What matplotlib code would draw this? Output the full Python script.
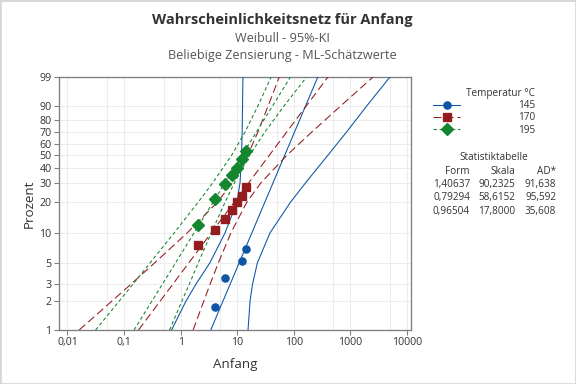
import matplotlib
matplotlib.use('Agg')
import numpy as np
import matplotlib.pyplot as plt
from matplotlib.lines import Line2D
from matplotlib.patches import Rectangle

plt.rcParams['font.family'] = ['Open Sans', 'Noto Sans', 'DejaVu Sans']
plt.rcParams['lines.scale_dashes'] = False

# ========== Daten ==========
temps = ['145', '170', '195']
form = ['1,40637', '0,79294', '0,96504']
skala = ['90,2325', '58,6152', '17,8000']
ad = ['91,638', '95,592', '35,608']

# Punkte (Anfang, Prozent)
x_145 = [4, 6, 12, 14]
p_145 = [1.75, 3.45, 5.15, 6.85]
x_170 = [2, 4, 6, 8, 10, 12, 14]
p_170 = [7.5, 10.6, 13.6, 16.8, 20.0, 22.7, 27.3]
x_195 = [2, 4, 6, 8, 10, 12, 14]
p_195 = [12.1, 21.2, 29.1, 34.8, 39.6, 46.7, 54.0]

# angepasste Gerade, Endpunkte bei 1 % und 99 %
fit_p = [1, 99]
fit_145 = [3.4, 265]
fit_170 = [0.18, 400]
fit_195 = [0.15, 87]

# 95%-KI
ci_p = [1, 2, 3, 5, 10, 20, 30, 50, 70, 90, 99]
ci_145_lo = [0.69, 1.24, 1.86, 3.29, 6.07, 9.88, 11.2, 11.9, 12.2, 12.4, 12.6]
ci_145_hi = [15.5, 16.8, 18.6, 22.7, 37.8, 87.7, 162, 400, 843, 1960, 4990]
ci_170_lo = [0.0161, 0.0606, 0.132, 0.350, 1.30, 4.49, 8.19, 15.3, 23.0, 35.3, 55.2]
ci_170_hi = [1.66, 2.56, 3.31, 4.65, 7.71, 14.8, 26.4, 75.5, 204, 682, 2507]
ci_195_lo = [0.0314, 0.0819, 0.143, 0.290, 0.765, 2.05, 3.71, 7.96, 13.6, 23.3, 39.6]
ci_195_hi = [0.637, 1.05, 1.42, 2.05, 3.47, 6.11, 8.92, 16.6, 30.4, 67.7, 168]

x_ticks = [0.01, 0.1, 1, 10, 100, 1000, 10000]
x_ticklabels = ['0,01', '0,1', '1', '10', '100', '1000', '10000']
x_grid = [0.05, 0.5, 5, 50, 500, 5000]
y_ticks = [1, 2, 3, 5, 10, 20, 30, 40, 50, 60, 70, 80, 90, 99]

blue, red, green = '#0d56a6', '#941b1e', '#14862e'


# Weibull-Wahrscheinlichkeitsachse
def fwd(p):
    p = np.clip(np.asarray(p, dtype=float), 1e-6, 100 - 1e-6)
    return np.log(-np.log(1 - p / 100))


def inv(y):
    return 100 * (1 - np.exp(-np.exp(y)))


fig = plt.figure(figsize=(6, 4), dpi=96)
ax = fig.add_axes([59 / 576, 1 - 330 / 384, 352 / 576, 253 / 384])
ax.set_xscale('log')
ax.set_yscale('function', functions=(fwd, inv))

styles = [
    (blue, '-', 'o', 5.4, x_145, p_145, fit_145, ci_145_lo, ci_145_hi),
    (red, (0, (6, 3)), 's', 6.3, x_170, p_170, fit_170, ci_170_lo, ci_170_hi),
    (green, (0, (2.6, 2)), 'D', 6.2, x_195, p_195, fit_195, ci_195_lo, ci_195_hi),
]
handles = []
for col, ls, mk, ms, xs, ps, fit, lo, hi in styles:
    ax.plot(fit, fit_p, color=col, ls=ls, lw=0.8, zorder=3)
    ax.plot(lo, ci_p, color=col, ls=ls, lw=0.8, zorder=3)
    ax.plot(hi, ci_p, color=col, ls=ls, lw=0.8, zorder=3)
    ax.plot(xs, ps, ls='none', marker=mk, ms=ms, color=col, mec=col, zorder=4)
    handles.append(Line2D([], [], color=col, ls=ls, lw=0.8, marker=mk, ms=ms, mec=col))

ax.set_xlim(10 ** -2.15, 10 ** 4.07)
ax.set_ylim(1, 99)
ax.set_xticks(x_ticks)
ax.set_xticklabels(x_ticklabels)
ax.set_xticks(x_grid, minor=True)
ax.set_yticks(y_ticks)
ax.set_yticklabels([str(v) for v in y_ticks])
ax.yaxis.set_minor_locator(matplotlib.ticker.NullLocator())
ax.grid(True, which='both', color='#ececec', lw=0.8, zorder=0)
ax.set_axisbelow(True)
ax.tick_params(axis='both', which='major', labelsize=8, labelcolor='#333333', color='#808080', length=3.5, width=0.8, pad=2)
ax.tick_params(axis='x', which='minor', length=0)
for s in ax.spines.values():
    s.set_color('#808080')
    s.set_linewidth(1.0)

ax.set_xlabel('Anfang', fontsize=10, color='#333333', labelpad=7)
ax.set_ylabel('Prozent', fontsize=10, color='#333333', labelpad=3)

# Titel
fig.text(282 / 576, 1 - 20 / 384, 'Wahrscheinlichkeitsnetz für Anfang', ha='center', va='center',
         fontsize=11, fontweight='bold', color='#333333')
fig.text(282 / 576, 1 - 38 / 384, 'Weibull - 95%-KI', ha='center', va='center', fontsize=9.5, color='#555555')
fig.text(282 / 576, 1 - 55 / 384, 'Beliebige Zensierung - ML-Schätzwerte', ha='center', va='center',
         fontsize=9.5, color='#555555')

# Legende
leg = fig.legend(handles, temps, loc='upper left', bbox_to_anchor=(428 / 576, 1 - 83 / 384), frameon=False,
                 borderpad=0, fontsize=7.5, title='Temperatur °C', title_fontsize=7.5, handlelength=2.7,
                 handletextpad=5.8, labelspacing=0.12, alignment='right', labelcolor='#333333')
leg.get_title().set_color('#333333')
leg.get_title().set_fontweight('normal')

# Statistiktabelle
fig.text(494 / 576, 1 - 157 / 384, 'Statistiktabelle', ha='center', va='center', fontsize=7.5, color='#333333')
cols_x = [470, 515.5, 556]
for cx, head in zip(cols_x, ['Form', 'Skala', 'AD*']):
    fig.text(cx / 576, 1 - 171 / 384, head, ha='right', va='center', fontsize=7.5, color='#333333')
for i in range(3):
    ry = 1 - (184.5 + 13.3 * i) / 384
    for cx, val in zip(cols_x, [form[i], skala[i], ad[i]]):
        fig.text(cx / 576, ry, val, ha='right', va='center', fontsize=7.5, color='#333333')

fig.patches.append(Rectangle((0, 0), 1, 1, transform=fig.transFigure, fill=False,
                             edgecolor='#d6d6d6', lw=2))

fig.savefig('out.png', dpi=96)
plt.close()
